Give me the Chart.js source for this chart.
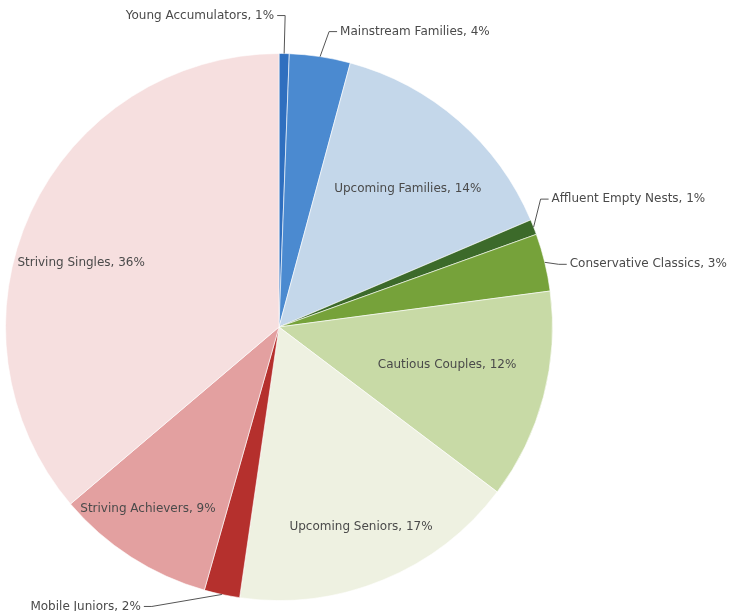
<!DOCTYPE html>
<html>
<head>
<meta charset="utf-8">
<script src="https://cdn.jsdelivr.net/npm/chart.js@4/dist/chart.umd.min.js"></script>
<style>
  html, body { margin: 0; padding: 0; background: #fff; }
  #wrap { width: 734px; height: 611px; }
</style>
</head>
<body>
<div id="wrap"><canvas id="segmentChart" width="734" height="611"></canvas></div>
<script>
// Segment names and their share, read clockwise from 12 o'clock
var segments = ['Young Accumulators', 'Mainstream Families', 'Upcoming Families', 'Affluent Empty Nests',
    'Conservative Classics', 'Cautious Couples', 'Upcoming Seniors', 'Mobile Juniors',
    'Striving Achievers', 'Striving Singles'];
var shares = [0.6, 3.6, 14.4, 0.9, 3.4, 12.4, 17.0, 2.1, 9.4, 36.2];
var sliceColors = ['#2f6fbf', '#4b8ad0', '#c4d7ea', '#3c6a2a', '#76a23a', '#c8daa6',
    '#eef1e1', '#b5302d', '#e3a0a0', '#f6dfdf'];

// Labels drawn inside a slice: fraction of radius and angle nudge (degrees)
var insideLabels = {
    2: { r: 0.69, da: 2 },
    5: { r: 0.63, da: -2 },
    6: { r: 0.79, da: 0 },
    8: { r: 0.82, da: 3 },
    9: { r: 0.76, da: -7 }
};
// Labels drawn outside with a leader line: elbow offset from the rim, and which side the text goes
var outsideLabels = {
    0: { dx: 1, dy: -38, side: -1 },
    1: { dx: 9, dy: -25, side: 1 },
    3: { dx: 7, dy: -28, side: 1 },
    4: { dx: 14, dy: 2, side: 1 },
    7: { dx: -70, dy: 12, side: -1 }
};

var labelPlugin = {
    id: 'sliceLabels',
    afterDatasetsDraw: function(chart) {
        var ctx = chart.ctx;
        var meta = chart.getDatasetMeta(0);
        var total = shares.reduce(function(a, b) { return a + b; }, 0);
        ctx.save();
        ctx.font = '12px "DejaVu Sans", Verdana, sans-serif';
        ctx.fillStyle = '#4a4a4a';
        ctx.strokeStyle = '#555';
        ctx.lineWidth = 1;
        ctx.textBaseline = 'middle';
        meta.data.forEach(function(arc, i) {
            var text = segments[i] + ', ' + Math.round(shares[i] / total * 100) + '%';
            var mid = (arc.startAngle + arc.endAngle) / 2;
            if (insideLabels[i]) {
                var p = insideLabels[i];
                var a = mid + p.da * Math.PI / 180;
                var r = arc.outerRadius * p.r;
                ctx.textAlign = 'center';
                ctx.fillText(text, arc.x + Math.cos(a) * r, arc.y + Math.sin(a) * r);
            } else if (outsideLabels[i]) {
                var o = outsideLabels[i];
                var ex = arc.x + Math.cos(mid) * arc.outerRadius;
                var ey = arc.y + Math.sin(mid) * arc.outerRadius;
                var bx = ex + o.dx, by = ey + o.dy;
                var tx = bx + o.side * 8;
                ctx.beginPath();
                ctx.moveTo(ex, ey);
                ctx.lineTo(bx, by);
                ctx.lineTo(tx, by);
                ctx.stroke();
                ctx.textAlign = o.side > 0 ? 'left' : 'right';
                ctx.fillText(text, tx + o.side * 3, by);
            }
        });
        ctx.restore();
    }
};

var ctx = document.getElementById('segmentChart').getContext('2d');
var chart = new Chart(ctx, {
    type: 'pie',
    data: {
        labels: segments,
        datasets: [{
            data: shares,
            backgroundColor: sliceColors,
            borderColor: 'rgba(255,255,255,0.6)',
            borderWidth: 1
        }]
    },
    options: {
        responsive: false,
        animation: false,
        layout: { padding: { left: 5, right: 181, top: 53, bottom: 10 } },
        plugins: {
            legend: { display: false },
            tooltip: { enabled: false }
        }
    },
    plugins: [labelPlugin]
});
</script>
</body>
</html>
